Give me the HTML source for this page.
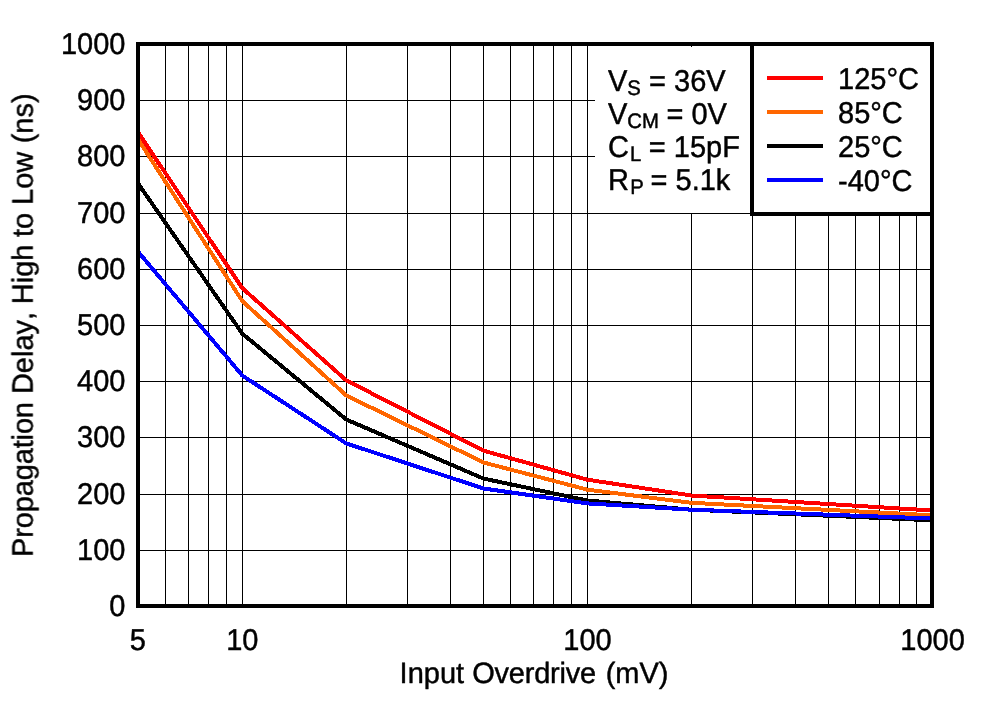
<!DOCTYPE html>
<html><head><meta charset="utf-8"><title>Propagation Delay vs Input Overdrive</title>
<style>html,body{margin:0;padding:0;background:#fff;}body{width:988px;height:701px;overflow:hidden;}svg{display:block;}text{font-family:"Liberation Sans",sans-serif;fill:#000;stroke:#000;stroke-width:0.45px;stroke-linejoin:round;text-rendering:geometricPrecision;font-kerning:none;}</style>
</head><body>
<svg width="988" height="701" viewBox="0 0 988 701">
<rect x="0" y="0" width="988" height="701" fill="#fff"/>
<g shape-rendering="crispEdges" fill="#000">
<rect x="165" y="44" width="1" height="562"/>
<rect x="188" y="44" width="1" height="562"/>
<rect x="208" y="44" width="1" height="562"/>
<rect x="226" y="44" width="1" height="562"/>
<rect x="242" y="44" width="1" height="562"/>
<rect x="346" y="44" width="1" height="562"/>
<rect x="407" y="44" width="1" height="562"/>
<rect x="450" y="44" width="1" height="562"/>
<rect x="483" y="44" width="1" height="562"/>
<rect x="510" y="44" width="1" height="562"/>
<rect x="533" y="44" width="1" height="562"/>
<rect x="553" y="44" width="1" height="562"/>
<rect x="571" y="44" width="1" height="562"/>
<rect x="587" y="44" width="1" height="562"/>
<rect x="691" y="44" width="1" height="562"/>
<rect x="752" y="44" width="1" height="562"/>
<rect x="795" y="44" width="1" height="562"/>
<rect x="828" y="44" width="1" height="562"/>
<rect x="855" y="44" width="1" height="562"/>
<rect x="879" y="44" width="1" height="562"/>
<rect x="899" y="44" width="1" height="562"/>
<rect x="916" y="44" width="1" height="562"/>
<rect x="138" y="550" width="794" height="1"/>
<rect x="138" y="494" width="794" height="1"/>
<rect x="138" y="437" width="794" height="1"/>
<rect x="138" y="381" width="794" height="1"/>
<rect x="138" y="325" width="794" height="1"/>
<rect x="138" y="269" width="794" height="1"/>
<rect x="138" y="213" width="794" height="1"/>
<rect x="138" y="156" width="794" height="1"/>
<rect x="138" y="100" width="794" height="1"/>
</g>
<rect x="595" y="47" width="157" height="166" fill="#fff" shape-rendering="crispEdges"/>
<g shape-rendering="crispEdges" fill="none" stroke-width="4" stroke-linejoin="round" stroke-linecap="butt">
<polyline points="138.50,133.00 242.37,288.20 346.25,380.30 483.56,450.70 587.44,479.70 691.31,495.50 932.50,510.50" stroke="#ff0000"/>
<polyline points="138.50,140.00 242.37,301.20 346.25,395.40 483.56,462.50 587.44,489.70 691.31,502.80 932.50,515.30" stroke="#ff6600"/>
<polyline points="138.50,184.10 242.37,333.70 346.25,419.50 483.56,478.60 587.44,500.50 691.31,509.70 932.50,520.30" stroke="#000000"/>
<polyline points="138.50,252.20 242.37,375.60 346.25,443.40 483.56,488.50 587.44,503.40 691.31,509.70 932.50,518.50" stroke="#0000ff"/>
</g>
<g shape-rendering="crispEdges">
<rect x="752" y="44" width="180" height="170" fill="#fff" stroke="#000" stroke-width="4"/>
<rect x="767" y="76" width="56" height="4" fill="#ff0000"/>
<rect x="767" y="110" width="56" height="4" fill="#ff6600"/>
<rect x="767" y="144" width="56" height="4" fill="#000000"/>
<rect x="767" y="178" width="56" height="4" fill="#0000ff"/>
<rect x="138" y="44" width="794" height="562" fill="none" stroke="#000" stroke-width="4"/>
</g>
<g opacity="0.999">
<text transform="translate(838.00,89.00) scale(1,1.035)" font-size="29" text-anchor="start">125°C</text>
<text transform="translate(838.00,123.00) scale(1,1.035)" font-size="29" text-anchor="start">85°C</text>
<text transform="translate(838.00,157.00) scale(1,1.035)" font-size="29" text-anchor="start">25°C</text>
<text transform="translate(838.00,191.00) scale(1,1.035)" font-size="29" text-anchor="start">-40°C</text>
<text transform="translate(608.00,91.00) scale(1,1.035)" font-size="29" text-anchor="start" xml:space="preserve">V<tspan font-size="20.3" dy="4.25" dx="0">S</tspan><tspan dy="-4.25" dx="0.2"> = 36V</tspan></text>
<text transform="translate(608.00,124.00) scale(1,1.035)" font-size="29" text-anchor="start" xml:space="preserve">V<tspan font-size="20.3" dy="4.25" dx="0">CM</tspan><tspan dy="-4.25" dx="-0.5"> = 0V</tspan></text>
<text transform="translate(608.00,157.00) scale(1,1.035)" font-size="29" text-anchor="start" xml:space="preserve">C<tspan font-size="20.3" dy="4.25" dx="1.0">L</tspan><tspan dy="-4.25" dx="-0.5"> = 15pF</tspan></text>
<text transform="translate(608.00,190.00) scale(1,1.035)" font-size="29" text-anchor="start" xml:space="preserve">R<tspan font-size="20.3" dy="4.25" dx="1.2">P</tspan><tspan dy="-4.25" dx="-1.2"> = 5.1k</tspan></text>
<text transform="translate(125.40,616.00) scale(1,1.035)" font-size="29" text-anchor="end">0</text>
<text transform="translate(125.40,559.80) scale(1,1.035)" font-size="29" text-anchor="end">100</text>
<text transform="translate(125.40,503.60) scale(1,1.035)" font-size="29" text-anchor="end">200</text>
<text transform="translate(125.40,447.40) scale(1,1.035)" font-size="29" text-anchor="end">300</text>
<text transform="translate(125.40,391.20) scale(1,1.035)" font-size="29" text-anchor="end">400</text>
<text transform="translate(125.40,335.00) scale(1,1.035)" font-size="29" text-anchor="end">500</text>
<text transform="translate(125.40,278.80) scale(1,1.035)" font-size="29" text-anchor="end">600</text>
<text transform="translate(125.40,222.60) scale(1,1.035)" font-size="29" text-anchor="end">700</text>
<text transform="translate(125.40,166.40) scale(1,1.035)" font-size="29" text-anchor="end">800</text>
<text transform="translate(125.40,110.20) scale(1,1.035)" font-size="29" text-anchor="end">900</text>
<text transform="translate(125.40,54.00) scale(1,1.035)" font-size="29" text-anchor="end">1000</text>
<text transform="translate(137.70,650.00) scale(1,1.035)" font-size="29" text-anchor="middle">5</text>
<text transform="translate(242.37,650.00) scale(1,1.035)" font-size="29" text-anchor="middle">10</text>
<text transform="translate(587.44,650.00) scale(1,1.035)" font-size="29" text-anchor="middle">100</text>
<text transform="translate(932.50,650.00) scale(1,1.035)" font-size="29" text-anchor="middle">1000</text>
<text transform="translate(399.60,683.00) scale(1,1.012)" font-size="29" text-anchor="start" xml:space="preserve"><tspan dx="0" letter-spacing="0">Input </tspan><tspan dx="0" letter-spacing="-0.22">Overdrive</tspan><tspan dx="1.7" letter-spacing="0"> (mV)</tspan></text>
<text transform="translate(33.00,557.00) rotate(-90) scale(1,1.012)" font-size="29" text-anchor="start" xml:space="preserve"><tspan dx="0" letter-spacing="-0.14">Propagation</tspan><tspan dx="0" letter-spacing="0"> Delay,</tspan><tspan dx="-0.4" letter-spacing="0"> High</tspan><tspan dx="-0.6" letter-spacing="0"> to</tspan><tspan dx="-0.1" letter-spacing="0"> Low</tspan><tspan dx="0.4" letter-spacing="0"> (ns)</tspan></text>
</g>
</svg>
</body></html>
